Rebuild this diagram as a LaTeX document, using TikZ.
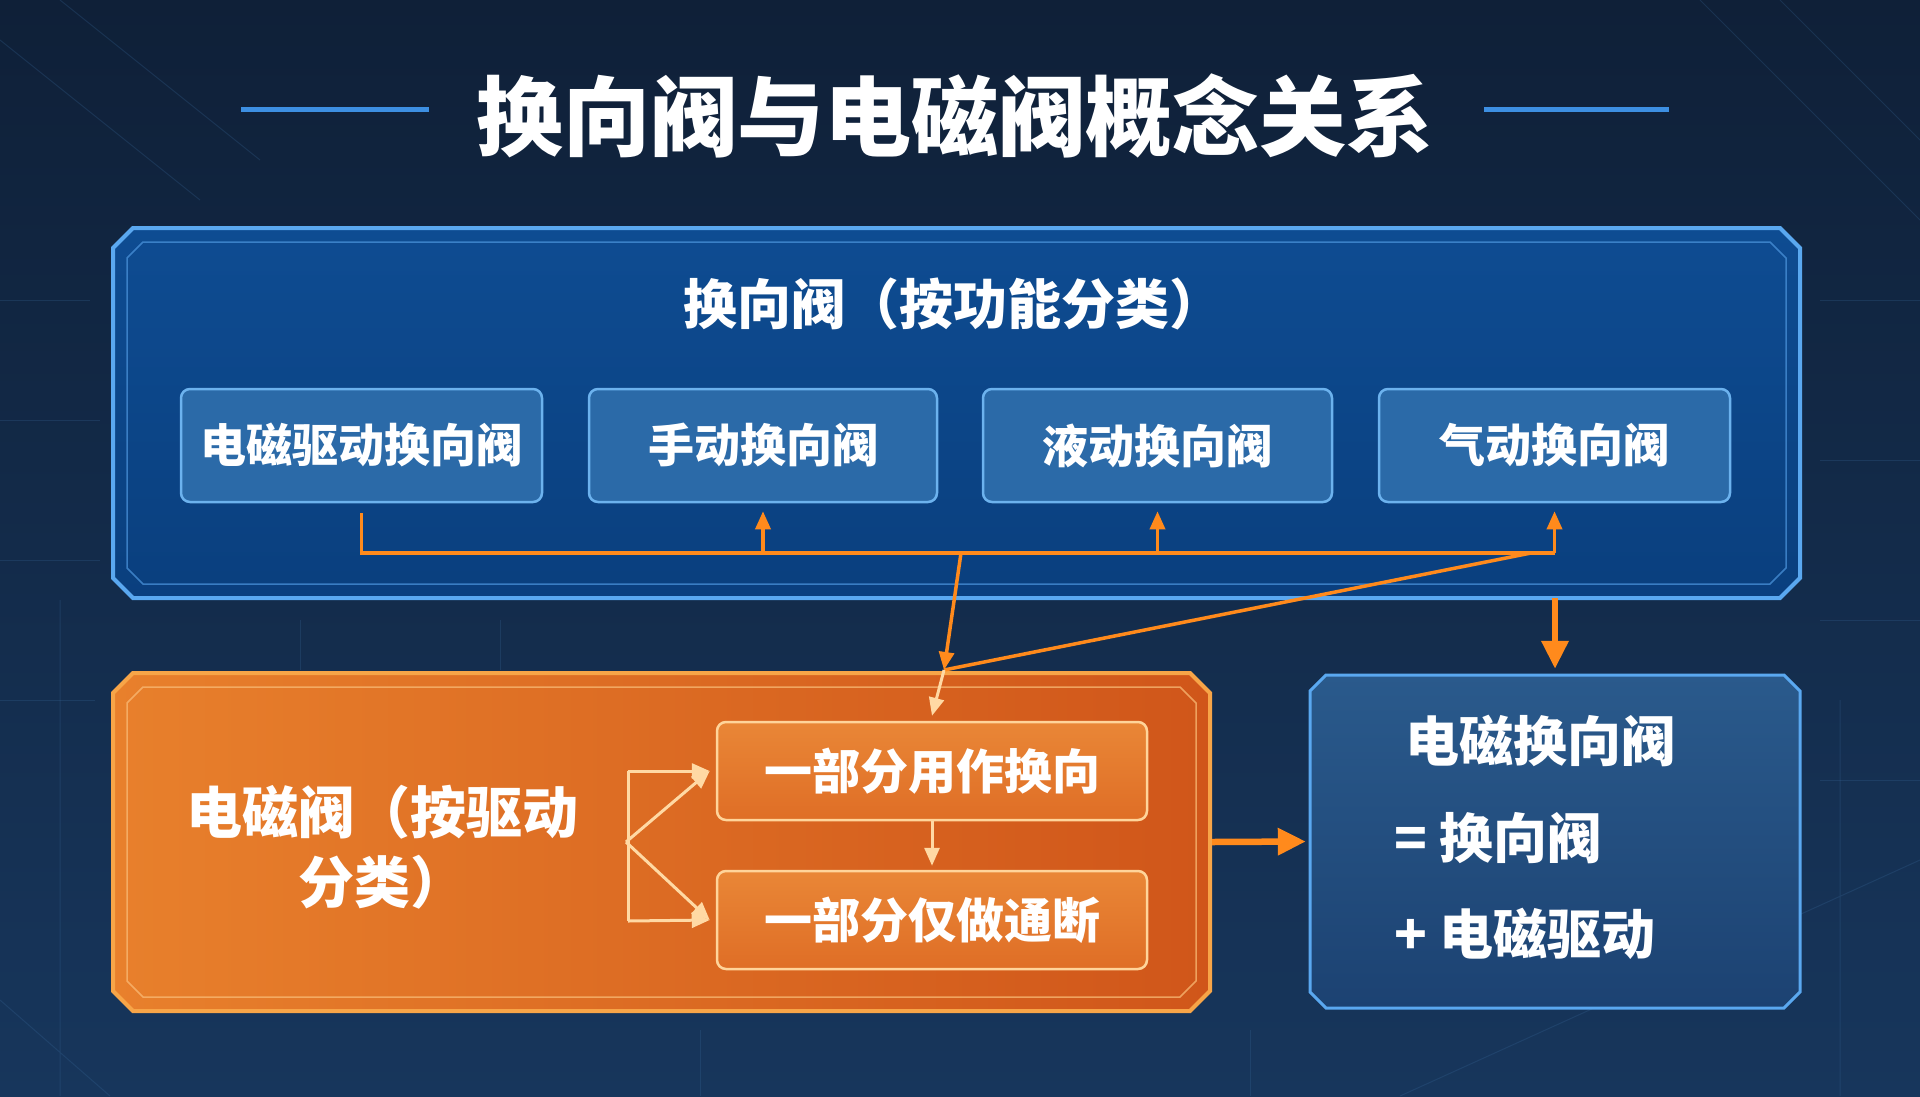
\documentclass[tikz,border=0pt]{standalone}
\usepackage{fontspec}
\setmainfont{Noto Sans CJK SC}[BoldFont={Noto Sans CJK SC Black}]
\usetikzlibrary{arrows.meta,calc}
\definecolor{bgtop}{HTML}{0F2038}
\definecolor{bgbot}{HTML}{17365C}
\definecolor{outerfillA}{HTML}{0E4C92}
\definecolor{outerfillB}{HTML}{0A3F7E}
\definecolor{outerline}{HTML}{5AA8F0}
\definecolor{innerline}{HTML}{4A92DA}
\definecolor{smallfill}{HTML}{2B6AA8}
\definecolor{smallline}{HTML}{6CB2EE}
\definecolor{orangeA}{HTML}{E8802C}
\definecolor{orangeB}{HTML}{D0561A}
\definecolor{orangeline}{HTML}{F7A548}
\definecolor{subfill}{HTML}{DF6E26}
\definecolor{subline}{HTML}{FFD49A}
\definecolor{rightfillA}{HTML}{2A5A8C}
\definecolor{rightfillB}{HTML}{1C4272}
\definecolor{conn}{HTML}{FF8A1C}
\definecolor{peach}{HTML}{FFD9A4}
\definecolor{titleline}{HTML}{3D8FE2}
\definecolor{gridline}{HTML}{3A6A9C}
% chamfered outline: x1 y1 x2 y2 cut
\newcommand\chamfpath[5]{(#1+#5,#2) -- (#3-#5,#2) -- (#3,#2+#5) -- (#3,#4-#5) -- (#3-#5,#4) -- (#1+#5,#4) -- (#1,#4-#5) -- (#1,#2+#5) -- cycle}
\tikzset{
  anchorbox/.style={rectangle, inner sep=0pt, draw=none},
  smallbox/.style={rectangle, rounded corners=9pt, inner sep=0pt, draw=smallline, line width=2.5pt, fill=smallfill, text=white, font=\bfseries\fontsize{46}{52}\selectfont, minimum height=113pt},
  subbox/.style={rectangle, rounded corners=9pt, inner sep=0pt, draw=subline, line width=2.5pt, top color=orangeA!95!white, bottom color=subfill, text=white, font=\bfseries\fontsize{48}{54}\selectfont, minimum width=430pt, minimum height=98pt},
  orl/.style={draw=conn, line width=3.5pt},
  orthick/.style={draw=conn, line width=6.5pt},
  pch/.style={draw=peach, line width=3pt},
  tipS/.style={-{Triangle[length=18pt,width=15pt]}},
  tipL/.style={-{Triangle[length=28pt,width=26pt]}},
  txt/.style={text=white, font=\bfseries\fontsize{54}{70}\selectfont, inner sep=0pt}
}
\begin{document}
\begin{tikzpicture}[x=1pt,y=-1pt]
\path[use as bounding box] (0,0) rectangle (1920,1096);
\shade[top color=bgtop, bottom color=bgbot] (0,0) rectangle (1920,1096);
% faint background texture
\begin{scope}[draw=gridline, opacity=0.25, line width=1pt]
  \draw (0,300) -- (90,300) (0,420) -- (100,420) (0,560) -- (100,560) (0,700) -- (95,700);
  \draw (1820,300) -- (1920,300) (1820,460) -- (1920,460) (1820,620) -- (1920,620) (1820,780) -- (1920,780);
  \draw (1700,0) -- (1920,220) (1780,0) -- (1920,140) (0,40) -- (200,200) (60,0) -- (260,160);
  \draw (1400,1096) -- (1920,860) (0,1000) -- (110,1096) (1840,700) -- (1840,1096) (60,600) -- (60,1096);
  \draw (300,620) -- (300,670) (500,620) -- (500,670) (1250,1030) -- (1250,1096) (700,1030) -- (700,1096);
\end{scope}
% title
\node[txt, font=\bfseries\fontsize{87}{90}\selectfont] (title) at (955,116) {换向阀与电磁阀概念关系};
\draw[titleline, line width=5pt] (241,109) -- (429,109);
\draw[titleline, line width=5pt] (1484,109) -- (1669,109);
% outer blue box
\shade[top color=outerfillA, bottom color=outerfillB] \chamfpath{113}{228}{1800}{598}{20};
\draw[outerline, line width=4pt] \chamfpath{113}{228}{1800}{598}{20};
\draw[innerline, line width=1.5pt, opacity=0.75] \chamfpath{127}{242}{1786}{584}{16};
\node[anchorbox, minimum width=1687pt, minimum height=370pt] (outer) at (956.5,413) {};
\node[txt] (subtitle) at (953,304) {换向阀（按功能分类）};
% four small boxes
\node[smallbox, minimum width=361pt] (b1) at (361.5,445.5) {电磁驱动换向阀};
\node[smallbox, minimum width=348pt] (b2) at (763,445.5) {手动换向阀};
\node[smallbox, minimum width=349pt] (b3) at (1157.5,445.5) {液动换向阀};
\node[smallbox, minimum width=351pt] (b4) at (1554.5,445.5) {气动换向阀};
% orange box
\shade[left color=orangeA, right color=orangeB] \chamfpath{113}{673}{1210}{1011}{20};
\draw[orangeline, line width=4pt] \chamfpath{113}{673}{1210}{1011}{20};
\draw[orangeline!75!white, line width=1.5pt, opacity=0.75] \chamfpath{127}{687}{1196}{997}{16};
\node[anchorbox, minimum width=1097pt, minimum height=338pt] (obox) at (661.5,842) {};
\node[txt, font=\bfseries\fontsize{56}{70}\selectfont, align=center] (otext) at (382,847) {电磁阀（按驱动\\分类）};
\node[subbox] (sub1) at (932,771) {一部分用作换向};
\node[subbox] (sub2) at (932,920) {一部分仅做通断};
% right box
\shade[top color=rightfillA, bottom color=rightfillB] \chamfpath{1310}{675}{1800}{1008}{16};
\draw[outerline, line width=3pt] \chamfpath{1310}{675}{1800}{1008}{16};
\node[anchorbox, minimum width=490pt, minimum height=333pt] (rbox) at (1555,841.5) {};
\node[txt] (rtitle) at (1540,741) {电磁换向阀};
\node[txt, anchor=west] (req) at (1394,838) {= 换向阀};
\node[txt, anchor=west] (rplus) at (1394,934) {+ 电磁驱动};
% orange connectors in the blue box
\coordinate (bus) at (0,553);
\draw[orl] ([yshift=-10pt]b1.south) |- (b4.south |- bus);
\draw[orl, tipS] (b2.south |- bus) -- ([yshift=-8pt]b2.south);
\draw[orl, tipS] (b3.south |- bus) -- ([yshift=-8pt]b3.south);
\draw[orl, tipS] (b4.south |- bus) -- ([yshift=-8pt]b4.south);
\coordinate (s1) at (961,553);
\coordinate (s2) at (1531,553);
\coordinate (j) at (944,670);
\draw[orl, tipS] (s1) -- (j);
\draw[orl] (s2) -- (j);
\draw[pch, tipS] (j) -- ([yshift=5pt]sub1.north);
% right arrows
\draw[orthick, tipL] (rbox.north |- outer.south) -- ([yshift=6pt]rbox.north);
\draw[orthick, tipL] ([xshift=2pt]obox.east) -- ([xshift=-4pt]rbox.west);
% bracket arrows
\coordinate (apex) at (626,842);
\coordinate (bt) at (628,771);
\coordinate (bb) at (628,921);
\draw[pch] (bt) -- (bb);
\draw[pch, tipS] (bt) -- ([xshift=-6pt]sub1.west);
\draw[pch, tipS] (bb) -- ([xshift=-6pt]sub2.west);
\draw[pch, tipS] (apex) -- ([xshift=-6pt]sub1.west);
\draw[pch, tipS] (apex) -- ([xshift=-6pt]sub2.west);
\draw[pch, tipS] (sub1.south) -- ([yshift=4pt]sub2.north);
\end{tikzpicture}
\end{document}
